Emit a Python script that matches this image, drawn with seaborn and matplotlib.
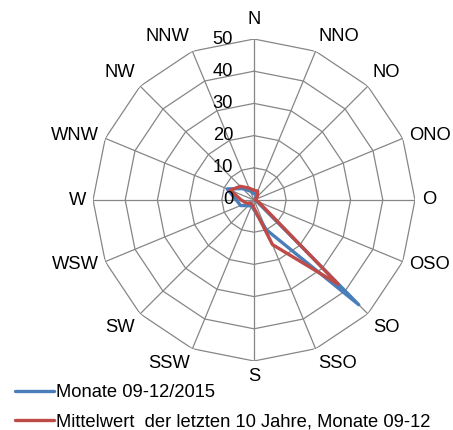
import numpy as np
import pandas as pd
import matplotlib
matplotlib.use("Agg")
import matplotlib.pyplot as plt
import matplotlib.transforms as mtransforms
from matplotlib.lines import Line2D
import seaborn as sns

# Wind directions (clockwise from north) and frequencies
directions = ["N", "NNO", "NO", "ONO", "O", "OSO", "SO", "SSO",
              "S", "SSW", "SW", "WSW", "W", "WNW", "NW", "NNW"]
current_period = [2, 2, 1, 0.5, 0.5, 1, 46, 10,
                  3, 2, 2.5, 4.5, 5.5, 9, 5, 3]
ten_year_mean = [3, 3, 1.5, 0.5, 0.5, 1.5, 37, 15,
                 2.5, 1.5, 1.5, 2.5, 4, 8, 6, 4]
series_names = ["Monate 09-12/2015",
                "Mittelwert  der letzten 10 Jahre, Monate 09-12"]
ring_values = [0, 10, 20, 30, 40, 50]

sns.set_theme(style="white")
plt.rcParams["font.family"] = ["Liberation Sans", "DejaVu Sans"]
plt.rcParams["text.color"] = "black"

FS = 13.2
GRID = "#868686"
COLORS = ["#4A7EBB", "#BE4B48"]

fig = plt.figure(figsize=(4.53, 4.30), dpi=100)
ax = fig.add_axes([93 / 453, 69 / 430, 322 / 453, 322 / 430], projection="polar")
ax.set_theta_zero_location("N")
ax.set_theta_direction(-1)
ax.set_ylim(0, max(ring_values))
ax.grid(False)
ax.spines["polar"].set_visible(False)
ax.set_xticks([])
ax.set_yticks([])
ax.patch.set_alpha(0)

n = len(directions)
theta = np.arange(n) * 2 * np.pi / n
theta_closed = np.append(theta, theta[0])

# Polygonal rings and spokes
for r in ring_values[1:]:
    ax.plot(theta_closed, [r] * (n + 1), color=GRID, lw=0.9, zorder=1)
for t in theta:
    ax.plot([t, t], [0, ring_values[-1]], color=GRID, lw=0.9, zorder=1)

# Series as closed polygons
frames = []
for name, vals in zip(series_names, [current_period, ten_year_mean]):
    frames.append(pd.DataFrame({
        "theta": theta_closed,
        "value": np.append(vals, vals[0]),
        "series": name,
    }))
df = pd.concat(frames, ignore_index=True)
for name, color in zip(series_names, COLORS):
    sns.lineplot(data=df[df["series"] == name], x="theta", y="value",
                 sort=False, estimator=None, color=color, lw=2.4,
                 ax=ax, legend=False, zorder=3)
ax.set_xlabel("")
ax.set_ylabel("")
ax.set_ylim(0, max(ring_values))

# Direction labels outside the outer ring
pad = 7
for t, lab in zip(theta, directions):
    s, c = np.sin(t), np.cos(t)
    ha = "left" if s > 0.1 else ("right" if s < -0.1 else "center")
    va = "bottom" if c > 0.5 else ("top" if c < -0.5 else "center")
    extra = 4 if lab == "N" else 0
    tr = mtransforms.offset_copy(ax.transData, fig=fig,
                                 x=pad * s, y=(pad + extra) * c, units="dots")
    ax.text(t, ring_values[-1], lab, transform=tr, ha=ha, va=va,
            fontsize=FS, color="black", clip_on=False)

# Radial value labels left of the north spoke
tr_r = mtransforms.offset_copy(ax.transData, fig=fig, x=-21, y=0, units="dots")
for r in ring_values:
    ax.text(0, r, str(r), transform=tr_r, ha="right", va="center",
            fontsize=FS, color="black", clip_on=False)

handles = [Line2D([], [], color=c, lw=2.4) for c in COLORS]
fig.legend(handles, series_names, loc="upper left",
           bbox_to_anchor=(15 / 453, 1 - 384 / 430), frameon=False,
           fontsize=FS, handlelength=2.1, handletextpad=0.12,
           labelspacing=0.68, borderaxespad=0, borderpad=0,
           labelcolor="black")

fig.savefig("out.png", dpi=100)
